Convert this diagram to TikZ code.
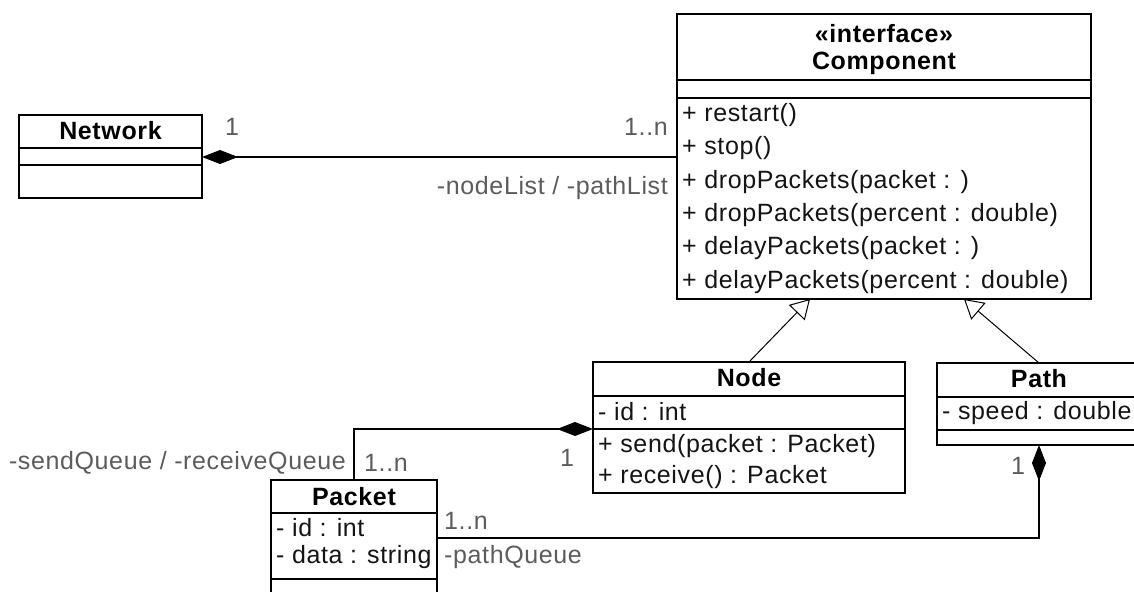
\documentclass[tikz,border=0pt]{standalone}
\usepackage{fontspec}
\setmainfont{Liberation Sans}[LetterSpace=2.5]
\usetikzlibrary{arrows.meta}
\begin{document}
\begin{tikzpicture}[x=1bp,y=-1bp,
  txtfont/.style={font=\fontsize{25bp}{29bp}\selectfont},
  cls/.style 2 args={draw=black, line width=1.4bp, fill=white, inner sep=0,
    outer sep=0, anchor=north west, minimum width=#1, minimum height=#2},
  sepline/.style={draw=black, line width=1.4bp},
  ttl/.style={font=\fontsize{25bp}{29bp}\selectfont\bfseries, inner sep=0, text=black},
  member/.style={txtfont, inner sep=0, anchor=west, text=black!92},
  lbl/.style={txtfont, inner sep=0, text=black!64},
  assoc/.style={draw=black, line width=1.3bp},
  comptip/.style={{Diamond[length=36bp,width=14bp]}-},
  gen/.style={draw=black, line width=1bp, -{Triangle[open,length=19bp,width=22bp,line width=1bp]}}
]
\useasboundingbox (0,0) rectangle (1134,592);
\fill[white] (0,0) rectangle (1134,592);
\clip (0,0) rectangle (1134,592);

% Network
\node[cls={183bp}{83bp}] (net) at (19,115) {};
\draw[sepline] (net.west |- 0,148) -- (net.east |- 0,148);
\draw[sepline] (net.west |- 0,165) -- (net.east |- 0,165);
\node[ttl] (netT) at (net.north |- 0,131) {Network};

% Component interface
\node[cls={414bp}{285bp}] (comp) at (677,14) {};
\draw[sepline] (comp.west |- 0,80) -- (comp.east |- 0,80);
\draw[sepline] (comp.west |- 0,98) -- (comp.east |- 0,98);
\node[ttl] (compS) at (comp.north |- 0,34) {«interface»};
\node[ttl] (compT) at (comp.north |- 0,63) {Component};
\node[member] (op1) at (682,115) {+ restart()};
\node[member] (op2) at (682,148.5) {+ stop()};
\node[member] (op3) at (682,182) {+ dropPackets(packet : )};
\node[member] (op4) at (682,215) {+ dropPackets(percent : double)};
\node[member] (op5) at (682,248.5) {+ delayPackets(packet : )};
\node[member] (op6) at (682,282) {+ delayPackets(percent : double)};

% Node
\node[cls={312bp}{131bp}] (node) at (593,362) {};
\draw[sepline] (node.west |- 0,396) -- (node.east |- 0,396);
\draw[sepline] (node.west |- 0,429) -- (node.east |- 0,429);
\node[ttl] (nodeT) at (node.north |- 0,378) {Node};
\node[member] (nodeA) at (598,412) {- id : int};
\node[member] (nodeO1) at (598,446) {+ send(packet : Packet)};
\node[member] (nodeO2) at (598,477) {+ receive() : Packet};

% Path
\node[cls={204bp}{82bp}] (path) at (937,363) {};
\draw[sepline] (path.west |- 0,397) -- (path.east |- 0,397);
\draw[sepline] (path.west |- 0,430) -- (path.east |- 0,430);
\node[ttl] (pathT) at (path.north |- 0,379) {Path};
\node[member] (pathA) at (942,413) {- speed : double};

% Packet
\node[cls={166bp}{140bp}] (packet) at (271,480) {};
\draw[sepline] (packet.west |- 0,513) -- (packet.east |- 0,513);
\draw[sepline] (packet.west |- 0,579) -- (packet.east |- 0,579);
\node[ttl] (packetT) at (packet.north |- 0,496.5) {Packet};
\node[member] (packetA1) at (276,528) {- id : int};
\node[member] (packetA2) at (276,557) {- data : string};

% Compositions
\draw[assoc, comptip] (net.east |- 0,157) -- (comp.west |- 0,157);
\draw[assoc, comptip] (node.west |- 0,429) -| (packet.north);
\draw[assoc, comptip] (path.south) |- (packet.east |- 0,538);

% Generalizations
\coordinate (gNode) at (comp.south -| 810,0);
\coordinate (gPath) at (comp.south -| 964,0);
\draw[gen] (node.north) -- (gNode);
\draw[gen] (path.north) -- (gPath);

% Multiplicities and roles
\node[lbl] (m1) at (232,127) {1};
\node[lbl, anchor=east] (m2) at (668,127) {1..n};
\node[lbl, anchor=east] (r1) at (668,188) {-nodeList / -pathList};
\node[lbl, anchor=east] (r2) at (346,463) {-sendQueue / -receiveQueue};
\node[lbl, anchor=west] (m3) at (364,463) {1..n};
\node[lbl] (m4) at (567,458) {1};
\node[lbl, anchor=west] (m5) at (444,521) {1..n};
\node[lbl, anchor=west] (r3) at (444,557) {-pathQueue};
\node[lbl] (m6) at (1018,466) {1};
\end{tikzpicture}
\end{document}
